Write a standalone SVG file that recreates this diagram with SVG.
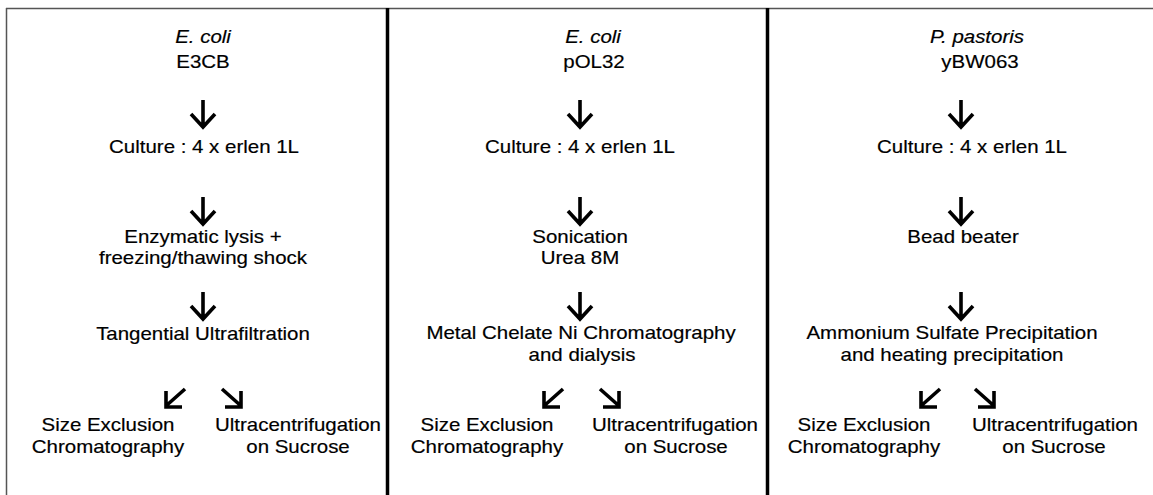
<svg xmlns="http://www.w3.org/2000/svg" xmlns:xlink="http://www.w3.org/1999/xlink" width="1153" height="495" viewBox="0 0 1153 495">
<style>
text{font-family:"Liberation Sans",Arial,sans-serif;font-size:18.6px;fill:#000;stroke:#000;stroke-width:0.18;text-anchor:middle}
.it{font-style:italic}
.frame{stroke:#555;stroke-width:1.5;fill:none}
.div{stroke:#000;stroke-width:3.5;fill:none}
.arr{stroke:#000;stroke-width:3.6;fill:none;stroke-linecap:butt;stroke-linejoin:miter}
</style>
<defs>
<path id="down" class="arr" d="M0,-28 V-2 M-12,-14 L0,-1 L12,-14"/>
<path id="dl" class="arr" d="M20,-18 L2,-2 M1,-16 V0 H17"/>
<path id="dr" class="arr" d="M-20,-18 L-2,-2 M-1,-16 V0 H-17"/>
</defs>
<rect width="1153" height="495" fill="#fff"/>
<g id="frame">
<line class="frame" x1="6" y1="8.5" x2="1153" y2="8.5"/>
<line class="frame" x1="6.5" y1="8" x2="6.5" y2="495"/>
<line class="div" x1="387.5" y1="8" x2="387.5" y2="495"/>
<line class="div" x1="767.5" y1="8" x2="767.5" y2="495"/>
</g>
<g id="connectors">
<use xlink:href="#down" x="203" y="128"/>
<use xlink:href="#down" x="203" y="225"/>
<use xlink:href="#down" x="203" y="320"/>
<use xlink:href="#dl" x="165" y="407"/>
<use xlink:href="#dr" x="242" y="407"/>
<use xlink:href="#down" x="580" y="128"/>
<use xlink:href="#down" x="580" y="225"/>
<use xlink:href="#down" x="580" y="320"/>
<use xlink:href="#dl" x="543" y="407"/>
<use xlink:href="#dr" x="620" y="407"/>
<use xlink:href="#down" x="961" y="128"/>
<use xlink:href="#down" x="961" y="225"/>
<use xlink:href="#down" x="961" y="320"/>
<use xlink:href="#dl" x="920" y="407"/>
<use xlink:href="#dr" x="995" y="407"/>
</g>
<g id="col1-strain"><text class="it" transform="translate(203,43) scale(1.1,1)">E. coli</text><text transform="translate(203,68) scale(1.1,1)">E3CB</text></g>
<g id="col1-culture"><text transform="translate(204,153) scale(1.1,1)">Culture : 4 x erlen 1L</text></g>
<g id="col1-lysis"><text transform="translate(203,243) scale(1.1,1)">Enzymatic lysis +</text><text transform="translate(203,264) scale(1.1,1)">freezing/thawing shock</text></g>
<g id="col1-purif"><text transform="translate(203,340) scale(1.1,1)">Tangential Ultrafiltration</text></g>
<g id="col1-sec"><text transform="translate(108,431) scale(1.1,1)">Size Exclusion</text><text transform="translate(108,453) scale(1.1,1)">Chromatography</text></g>
<g id="col1-uc"><text transform="translate(298,431) scale(1.1,1)">Ultracentrifugation</text><text transform="translate(298,453) scale(1.1,1)">on Sucrose</text></g>
<g id="col2-strain"><text class="it" transform="translate(593,43) scale(1.1,1)">E. coli</text><text transform="translate(594,68) scale(1.1,1)">pOL32</text></g>
<g id="col2-culture"><text transform="translate(580,153) scale(1.1,1)">Culture : 4 x erlen 1L</text></g>
<g id="col2-lysis"><text transform="translate(580,243) scale(1.1,1)">Sonication</text><text transform="translate(580,264) scale(1.1,1)">Urea 8M</text></g>
<g id="col2-purif"><text transform="translate(581,339) scale(1.1,1)">Metal Chelate Ni Chromatography</text><text transform="translate(582,361) scale(1.1,1)">and dialysis</text></g>
<g id="col2-sec"><text transform="translate(487,431) scale(1.1,1)">Size Exclusion</text><text transform="translate(487,453) scale(1.1,1)">Chromatography</text></g>
<g id="col2-uc"><text transform="translate(675,431) scale(1.1,1)">Ultracentrifugation</text><text transform="translate(676,453) scale(1.1,1)">on Sucrose</text></g>
<g id="col3-strain"><text class="it" transform="translate(977,43) scale(1.1,1)">P. pastoris</text><text transform="translate(980,68) scale(1.1,1)">yBW063</text></g>
<g id="col3-culture"><text transform="translate(972,153) scale(1.1,1)">Culture : 4 x erlen 1L</text></g>
<g id="col3-lysis"><text transform="translate(963,243) scale(1.1,1)">Bead beater</text></g>
<g id="col3-purif"><text transform="translate(952,339) scale(1.1,1)">Ammonium Sulfate Precipitation</text><text transform="translate(952,361) scale(1.1,1)">and heating precipitation</text></g>
<g id="col3-sec"><text transform="translate(864,431) scale(1.1,1)">Size Exclusion</text><text transform="translate(864,453) scale(1.1,1)">Chromatography</text></g>
<g id="col3-uc"><text transform="translate(1055,431) scale(1.1,1)">Ultracentrifugation</text><text transform="translate(1054,453) scale(1.1,1)">on Sucrose</text></g>
</svg>
